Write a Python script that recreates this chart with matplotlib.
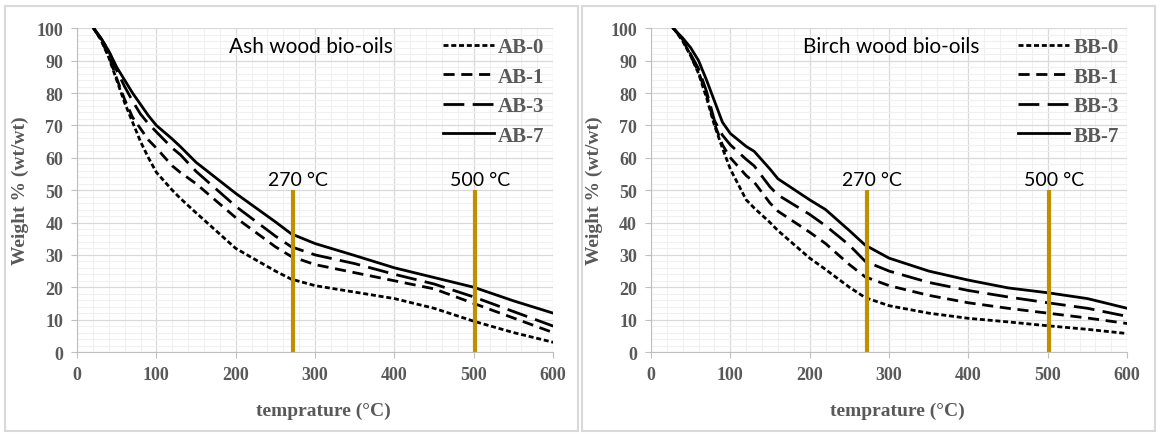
import numpy as np
import matplotlib
matplotlib.use("Agg")
from matplotlib import pyplot as plt
from matplotlib.patches import Rectangle
from matplotlib.ticker import MultipleLocator

# ash wood bio-oils
ab_temp = [21, 30, 40, 50, 60, 70, 80, 90, 100, 120, 130, 150, 200, 250, 270, 300, 350, 400, 450, 500, 550, 600]
ab_0 = [100, 96.5, 91, 84, 77, 71, 65, 60, 55.5, 50, 47.5, 43, 32, 25, 22.5, 20.5, 18.5, 16.5, 13.5, 9.5, 6, 3]
ab_1 = [100, 96.5, 91.5, 84.5, 78, 72.5, 69, 65.5, 63, 57.5, 55.5, 52, 41.5, 32.5, 29.5, 27, 24.5, 22, 19.5, 15, 10.5, 6]
ab_3 = [100, 97, 93, 87, 82, 77.5, 73.5, 70.5, 68, 63, 61, 55.8, 45, 35.8, 32.5, 30, 27.3, 24, 21, 17, 12.5, 8]
ab_7 = [100, 97, 93, 88, 84, 80, 76.5, 73, 70, 65.8, 63.5, 58.6, 49, 40.2, 36.5, 33.5, 29.8, 26, 23, 20, 15.8, 12]

# birch wood bio-oils
bb_temp = [28, 30, 40, 50, 60, 70, 80, 90, 100, 120, 130, 150, 160, 200, 220, 250, 270, 300, 350, 400, 450, 500, 550, 600]
bb_0 = [100, 99.5, 96, 91.5, 86, 78.5, 70, 63, 56.5, 47, 44.5, 40, 37.5, 29, 25.5, 20, 16.8, 14.3, 12, 10.4, 9.3, 8.1, 7, 5.7]
bb_1 = [100, 99.5, 96.5, 91.5, 86.5, 79.5, 70.5, 64, 60, 54.5, 52.5, 46, 43.5, 37, 33.5, 27, 23.2, 20.5, 17.5, 15.2, 13.5, 12, 10.5, 8.8]
bb_3 = [100, 99.5, 96.5, 92, 87.5, 80.5, 71.5, 67, 64, 59.5, 57.5, 51, 48.5, 42.5, 39, 33, 28, 25, 21.5, 19, 17, 15.2, 13.5, 11]
bb_7 = [100, 99.5, 97, 94, 90, 84, 77.5, 71, 67.5, 63.5, 62, 56.5, 53.5, 47, 44, 37.5, 33, 29, 25, 22.2, 19.8, 18.3, 16.5, 13.5]

ab_labels = ["AB-0", "AB-1", "AB-3", "AB-7"]
bb_labels = ["BB-0", "BB-1", "BB-3", "BB-7"]
marker_temps = [272, 502]
marker_text = ["270 °C", "500 °C"]

grey = "#595959"
gold = "#BF9000"
styles = [(0, (1.8, 1.0)), (0, (4.0, 2.4)), (0, (7.5, 3.0)), "-"]
serif = "Liberation Serif"

fig = plt.figure(figsize=(11.6, 4.35), dpi=100)

panels = [
    (0.0664, ab_temp, [ab_0, ab_1, ab_3, ab_7], ab_labels, "Ash wood bio-oils"),
    (0.5612, bb_temp, [bb_0, bb_1, bb_3, bb_7], bb_labels, "Birch wood bio-oils"),
]

for left, temp, series, labels, title in panels:
    ax = fig.add_axes([left, 0.1885, 0.4105, 0.7441])
    for s, ls, lab in zip(series, styles, labels):
        ax.plot(temp, s, color="black", lw=2.0, ls=ls, label=lab)
    for t, txt in zip(marker_temps, marker_text):
        ax.plot([t, t], [0, 50], color=gold, lw=3, solid_capstyle="butt")
        ax.text(t + 6, 51.5, txt, ha="center", va="baseline", fontsize=14, family="Lato")
    ax.text(191, 92.7, title, ha="left", va="baseline", fontsize=15, family="Lato")

    ax.set_xlim(0, 600)
    ax.set_ylim(0, 100)
    ax.xaxis.set_major_locator(MultipleLocator(100))
    ax.xaxis.set_minor_locator(MultipleLocator(20))
    ax.yaxis.set_major_locator(MultipleLocator(10))
    ax.yaxis.set_minor_locator(MultipleLocator(2))
    ax.grid(which="major", color="#D9D9D9", lw=0.9)
    ax.grid(which="minor", color="#F0F0F0", lw=0.8)
    ax.set_axisbelow(True)
    for sp in ["top", "right"]:
        ax.spines[sp].set_visible(False)
    for sp in ["left", "bottom"]:
        ax.spines[sp].set_color("#BFBFBF")
    ax.tick_params(which="major", length=4, color="#BFBFBF", labelsize=13, labelcolor=grey, pad=6)
    ax.tick_params(which="minor", length=0)
    for lbl in ax.get_xticklabels() + ax.get_yticklabels():
        lbl.set_family(serif)
        lbl.set_fontweight("bold")

    ax.set_xlabel("temprature (°C)", fontsize=14, family=serif, fontweight="bold", color=grey)
    ax.xaxis.set_label_coords(0.517, -0.155)
    ax.set_ylabel("Weight % (wt/wt)", fontsize=14, family=serif, fontweight="bold", color=grey)
    ax.yaxis.set_label_coords(-0.1, 0.5)

    leg = ax.legend(loc="upper right", bbox_to_anchor=(0.982, 0.972), frameon=False,
                    borderaxespad=0, borderpad=0,
                    handlelength=2.45, handletextpad=0.2, labelspacing=0.45,
                    prop={"family": serif, "weight": "bold", "size": 15})
    for t in leg.get_texts():
        t.set_color(grey)

# panel frames
for x0, x1 in [(5, 578), (582, 1155)]:
    fig.add_artist(Rectangle((x0 / 1160, 3 / 435), (x1 - x0) / 1160, 425 / 435,
                             transform=fig.transFigure, fill=False,
                             edgecolor="#D9D9D9", lw=1.5))

fig.savefig("out.png", dpi=100)
